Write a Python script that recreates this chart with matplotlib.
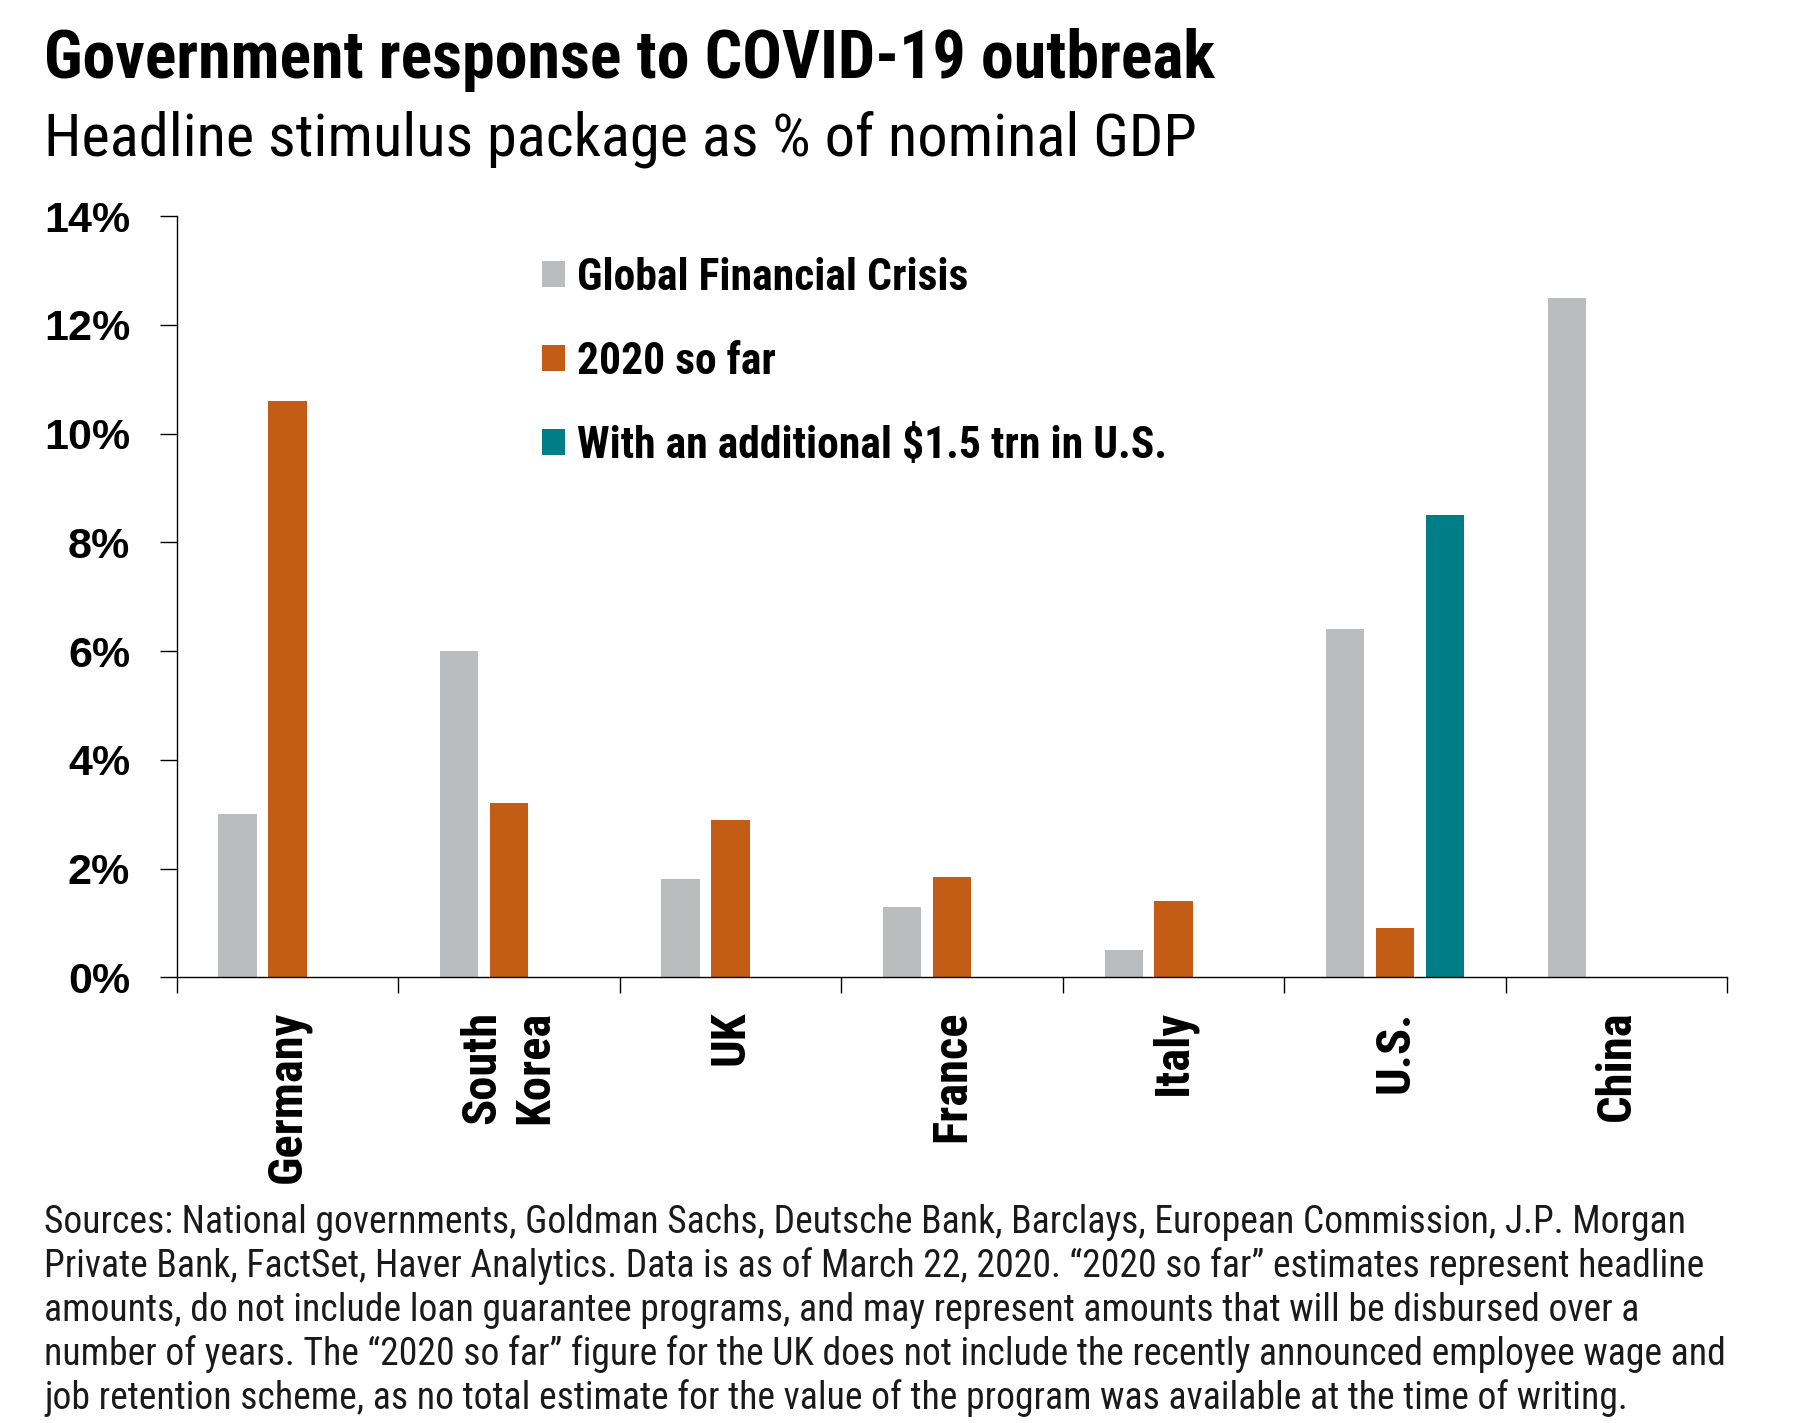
import numpy as np
import matplotlib
matplotlib.use("Agg")
import matplotlib.pyplot as plt
from matplotlib import font_manager as fm
from matplotlib.patches import Patch

# ---------------- data ----------------
countries = ["Germany", "South\nKorea", "UK", "France", "Italy", "U.S.", "China"]
gfc = [3.0, 6.0, 1.8, 1.3, 0.5, 6.4, 12.5]                 # Global Financial Crisis
so_far = [10.6, 3.2, 2.9, 1.85, 1.4, 0.9, np.nan]          # 2020 so far
additional = [np.nan, np.nan, np.nan, np.nan, np.nan, 8.5, np.nan]  # with extra $1.5 trn
series_names = ["Global Financial Crisis", "2020 so far",
                "With an additional $1.5 trn in U.S."]
yticks = [0, 2, 4, 6, 8, 10, 12, 14]
ytick_labels = [f"{v}%" for v in yticks]

title = "Government response to COVID-19 outbreak"
subtitle = "Headline stimulus package as % of nominal GDP"
foot_lines = [
    "Sources: National governments, Goldman Sachs, Deutsche Bank, Barclays, European Commission, J.P. Morgan",
    "Private Bank, FactSet, Haver Analytics. Data is as of March 22, 2020. \u201c2020 so far\u201d estimates represent headline",
    "amounts, do not include loan guarantee programs, and may represent amounts that will be disbursed over a",
    "number of years. The \u201c2020 so far\u201d figure for the UK does not include the recently announced employee wage and",
    "job retention scheme, as no total estimate for the value of the program was available at the time of writing.",
]

# ---------------- fonts ----------------
names = {f.name for f in fm.fontManager.ttflist}
NARROW = "Roboto"
for cand in ["Liberation Sans Narrow", "Roboto Condensed", "Open Sans Condensed", "Noto Sans Condensed"]:
    if cand in names:
        NARROW = cand
        break
WIDE = "Liberation Sans" if "Liberation Sans" in names else "DejaVu Sans"

C_GRAY = "#BBBCBE"
C_ORANGE = "#C35C14"
C_TEAL = "#007E88"

W, H = 1800, 1423
fig = plt.figure(figsize=(W / 100, H / 100), dpi=100)
fig.patch.set_facecolor("white")

def fx(px):
    return px / W

def fy(py):
    return 1 - py / H

ax = fig.add_axes([fx(176.7), fy(977.3), fx(1727.3 - 176.7), (977.3 - 216) / H])

x = np.arange(len(countries))
offsets = [-0.225, 0.0, 0.225]
bw = 0.173
colors = [C_GRAY, C_ORANGE, C_TEAL]
for vals, off, col, name in zip([gfc, so_far, additional], offsets, colors, series_names):
    v = np.array(vals, dtype=float)
    m = np.isfinite(v)
    ax.bar(x[m] + off, v[m], width=bw, color=col, label=name, zorder=2)

ax.set_xlim(-0.5, len(countries) - 0.5)
ax.set_ylim(0, 14)
for s in ["top", "right"]:
    ax.spines[s].set_visible(False)
for s in ["left", "bottom"]:
    ax.spines[s].set_linewidth(1.0)
    ax.spines[s].set_color("black")

ax.set_yticks(yticks)
ax.set_yticklabels(ytick_labels, fontfamily=WIDE, fontweight="bold", fontsize=31)
ax.tick_params(axis="y", length=12, width=1.0, pad=21.6, direction="out")

ax.set_xticks(x)
ax.set_xticklabels(countries, rotation=90, ha="center", va="top",
                   fontfamily=NARROW, fontweight="bold", fontsize=35, linespacing=1.2)
ax.tick_params(axis="x", which="major", length=0, pad=23.8)
ax.set_xticks(np.arange(-0.5, len(countries)), minor=True)
ax.tick_params(axis="x", which="minor", length=11.5, width=1.0, direction="out")

# ---------------- texts ----------------
renderer = fig.canvas.get_renderer()

def fit(t, target):
    w = t.get_window_extent(renderer).width
    t.set_fontsize(t.get_fontsize() * target / w)

t1 = fig.text(fx(44), fy(78), title, fontfamily=NARROW, fontweight="bold",
              fontsize=43, va="baseline", ha="left")
fit(t1, 1217 - 44)
t2 = fig.text(fx(44), fy(155), subtitle, fontfamily=NARROW, fontweight="normal",
              fontsize=43, va="baseline", ha="left")
fit(t2, 1197 - 44)

foot = []
for i, line in enumerate(foot_lines):
    t = fig.text(fx(44), fy(1233 + 43.9 * i), line, fontfamily=NARROW,
                 fontsize=22, va="baseline", ha="left", color="#1a1a1a")
    foot.append(t)
w4 = foot[3].get_window_extent(renderer).width
fs_foot = 22 * (1723 - 44) / w4
for t in foot:
    t.set_fontsize(fs_foot)

# ---------------- legend ----------------
probe = fig.text(0, 0, series_names[0], fontfamily=NARROW, fontweight="bold", fontsize=31)
fit(probe, 390)
leg_fs = probe.get_fontsize()
rowh = probe.get_window_extent(renderer).height
probe.remove()
fpx = leg_fs * 100 / 72
handles = [Patch(facecolor=c, edgecolor="none") for c in colors]
leg = fig.legend(handles, series_names, loc="center left",
                 bbox_to_anchor=(fx(542), fy(361.7)),
                 frameon=False, borderpad=0, borderaxespad=0,
                 prop=dict(family=NARROW, weight="bold", size=leg_fs),
                 handlelength=23 / fpx, handleheight=23 / fpx,
                 handletextpad=11.7 / fpx,
                 labelspacing=(84 - rowh) / fpx)

fig.savefig("out.png", dpi=100, facecolor="white")
